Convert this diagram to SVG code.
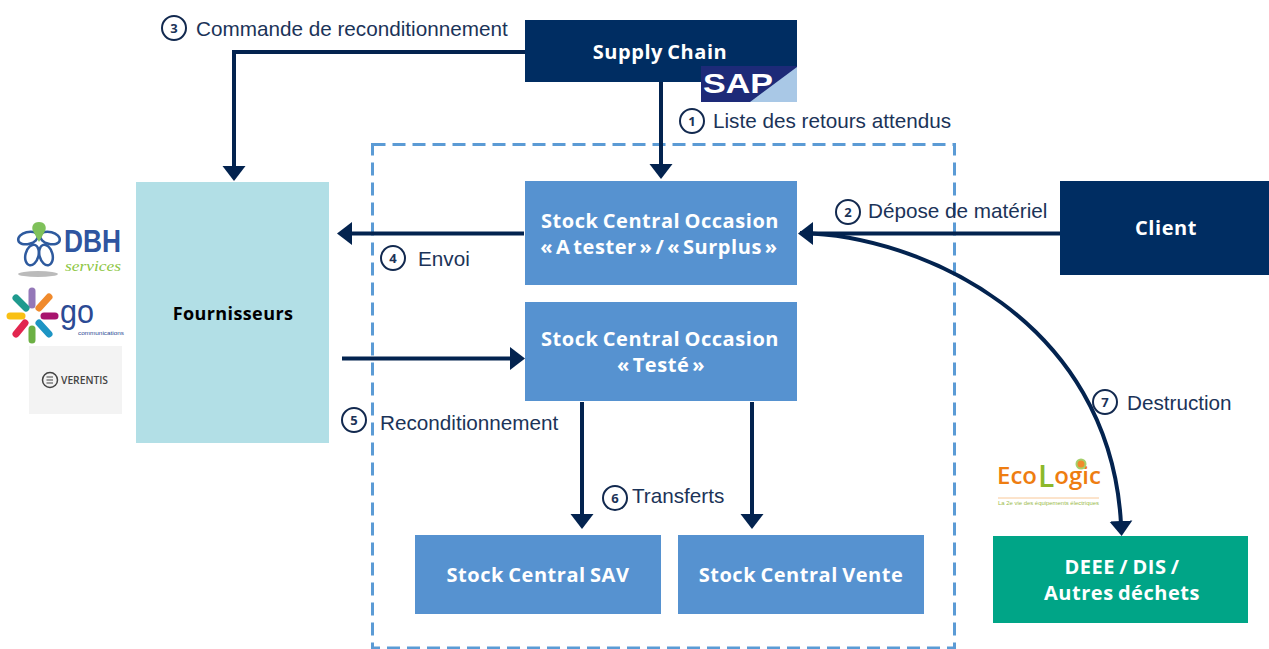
<svg xmlns="http://www.w3.org/2000/svg" width="1269" height="649" viewBox="0 0 1269 649">
<style>
.lbl{font:20.700px "Liberation Sans",Arial,sans-serif;fill:#1b3358}
.num{font:bold 13px "Open Sans",sans-serif;fill:#1b3358;text-anchor:middle}
.nc{fill:#fff;stroke:#12294f;stroke-width:2}
.nt{font:bold 20px "Open Sans",sans-serif;fill:#fff;text-anchor:middle;letter-spacing:.55px;word-spacing:-1.500px}
.tight{word-spacing:-2.800px}
.blue{fill:#5692d0}
.navy{fill:#002d62}
.c{fill:none;stroke:#03234f;stroke-width:4}
</style>
<defs>
<marker id="a" markerUnits="userSpaceOnUse" markerWidth="18" markerHeight="26" refX="3" refY="12" orient="auto"><path d="M0 0.500L15 12L0 23.500Z" fill="#03234f"/></marker>
</defs>
<rect x="372.500" y="144.500" width="582" height="503.500" fill="none" stroke="#5b9bd5" stroke-width="3" stroke-dasharray="13 7"/>
<g id="connectors">
<path class="c" d="M526 52H234V169" marker-end="url(#a)"/>
<path class="c" d="M661 82V167" marker-end="url(#a)"/>
<path class="c" d="M524 233.500H349" marker-end="url(#a)"/>
<path class="c" d="M1060 233.500H810" marker-end="url(#a)"/>
<path class="c" d="M342 358.500H513" marker-end="url(#a)"/>
<path class="c" d="M582 402V517" marker-end="url(#a)"/>
<path class="c" d="M752 402V517" marker-end="url(#a)"/>
<path class="c" d="M800 233C920 235 1110 320 1121 524" marker-end="url(#a)"/>
</g>
<g id="supply-chain"><rect class="navy" x="525" y="20" width="272" height="62"/><text class="nt" x="660" y="59">Supply Chain</text>
<rect x="701" y="66" width="96" height="36" fill="#1d2a78"/><path d="M797 67L750 102H797Z" fill="#a9c8e6"/><text x="703" y="93" font-family="Liberation Sans,sans-serif" font-weight="bold" font-size="28" fill="#fff" textLength="70" lengthAdjust="spacingAndGlyphs">SAP</text></g>
<g id="fournisseurs"><rect x="136" y="182" width="193" height="261" fill="#b2dfe6"/><text x="233" y="320" text-anchor="middle" style="font:bold 18px 'Open Sans',sans-serif;fill:#000;letter-spacing:.4px">Fournisseurs</text></g>
<g id="stock-a-tester"><rect class="blue" x="525" y="181" width="272" height="104"/><text class="nt" x="660" y="228">Stock Central Occasion</text><text class="nt tight" x="659" y="254">« A tester » / « Surplus »</text></g>
<g id="stock-teste"><rect class="blue" x="525" y="302" width="272" height="99"/><text class="nt" x="660" y="346">Stock Central Occasion</text><text class="nt tight" x="661" y="372">« Testé »</text></g>
<g id="stock-sav"><rect class="blue" x="415" y="535" width="246" height="79"/><text class="nt" x="538" y="582">Stock Central SAV</text></g>
<g id="stock-vente"><rect class="blue" x="678" y="535" width="246" height="79"/><text class="nt" x="801" y="582">Stock Central Vente</text></g>
<g id="client"><rect class="navy" x="1060" y="181" width="209" height="94"/><text class="nt" x="1166" y="235">Client</text></g>
<g id="deee"><rect x="993" y="536" width="255" height="87" fill="#00a587"/><text class="nt" x="1122" y="574">DEEE / DIS /</text><text class="nt" x="1122" y="600">Autres déchets</text></g>
<g id="labels">
<circle class="nc" cx="174" cy="28" r="12"/><text class="num" x="174" y="33">3</text><text class="lbl" x="196" y="36">Commande de reconditionnement</text>
<circle class="nc" cx="692" cy="121" r="12"/><text class="num" x="692" y="126">1</text><text class="lbl" x="713" y="128">Liste des retours attendus</text>
<circle class="nc" cx="848" cy="212" r="12"/><text class="num" x="848" y="217">2</text><text class="lbl" x="868" y="218">Dépose de matériel</text>
<circle class="nc" cx="393" cy="258" r="12"/><text class="num" x="393" y="263">4</text><text class="lbl" x="418" y="266">Envoi</text>
<circle class="nc" cx="354" cy="420" r="12"/><text class="num" x="354" y="425">5</text><text class="lbl" x="380" y="430">Reconditionnement</text>
<circle class="nc" cx="615" cy="498" r="12"/><text class="num" x="615" y="503">6</text><text class="lbl" x="632" y="503">Transferts</text>
<circle class="nc" cx="1105" cy="402" r="12"/><text class="num" x="1105" y="407">7</text><text class="lbl" x="1127" y="410">Destruction</text>
</g>
<g id="logo-dbh">
<ellipse cx="38" cy="274" rx="20" ry="3" fill="#bbb"/>
<g fill="none" stroke="#2e5a9e" stroke-width="2.500"><ellipse cx="28" cy="238" rx="10" ry="6" transform="rotate(-15 28 238)"/><ellipse cx="50" cy="238" rx="10" ry="6" transform="rotate(15 50 238)"/><ellipse cx="32" cy="255" rx="6.500" ry="10.500" transform="rotate(15 32 255)"/><ellipse cx="46" cy="255" rx="6.500" ry="10.500" transform="rotate(-15 46 255)"/></g>
<path d="M39 222c6 0 8 5 6 9l-6 11-6-11c-2-4 0-9 6-9Z" fill="#7fc15a"/>
<text x="64" y="252" font-family="Liberation Sans,sans-serif" font-weight="bold" font-size="31" fill="#2f55a0" textLength="57" lengthAdjust="spacingAndGlyphs">DBH</text>
<text x="65" y="271" font-family="Liberation Serif,serif" font-style="italic" font-size="14" fill="#8cc63f" textLength="56" lengthAdjust="spacingAndGlyphs">services</text>
</g>
<g id="logo-go">
<g stroke-width="7" stroke-linecap="round"><path d="M32 291V305" stroke="#9478b8"/><path d="M16 298L26 308" stroke="#1f9a8e"/><path d="M49 297L39 308" stroke="#f08a2c"/><path d="M10 316H22" stroke="#f9c013"/><path d="M44 316H55" stroke="#a8146e"/><path d="M16 334L25 323" stroke="#e2264f"/><path d="M32 329V340" stroke="#6cb044"/><path d="M39 323L49 334" stroke="#1d95c4"/></g>
<text x="60" y="323" font-family="Liberation Sans,sans-serif" font-size="34" fill="#2b4a94" textLength="34" lengthAdjust="spacingAndGlyphs">go</text>
<text x="78" y="335" font-family="Liberation Sans,sans-serif" font-size="5" fill="#2b4a94" textLength="46" lengthAdjust="spacingAndGlyphs">communications</text>
</g>
<g id="logo-verentis">
<rect x="29" y="346" width="93" height="68" fill="#f3f3f3"/>
<circle cx="50" cy="380" r="7.500" fill="none" stroke="#444" stroke-width="1.500"/><path d="M46.500 377H53M46.500 380H53M46.500 383H53" stroke="#444" stroke-width="1.200"/>
<text x="61" y="384" font-family="Open Sans,sans-serif" font-weight="600" font-size="10" fill="#444" textLength="47" lengthAdjust="spacingAndGlyphs">VERENTIS</text>
</g>
<g id="logo-ecologic">
<text x="997" y="484" font-family="Open Sans,sans-serif" font-weight="600" font-size="24" fill="#ee7d11">Eco<tspan fill="#8cb82b" font-size="30" dx="1" dy="3">L</tspan><tspan dy="-3">ogic</tspan></text>
<circle cx="1081" cy="464" r="4.500" fill="#f08a2c" stroke="#a5cf6a" stroke-width="2"/>
<path d="M998 498H1099" stroke="#f9c898"/>
<text x="998" y="505" font-family="Liberation Sans,sans-serif" font-size="5.500" fill="#9bbb4b" textLength="101" lengthAdjust="spacingAndGlyphs">La 2e vie des équipements électriques</text>
</g>
</svg>
